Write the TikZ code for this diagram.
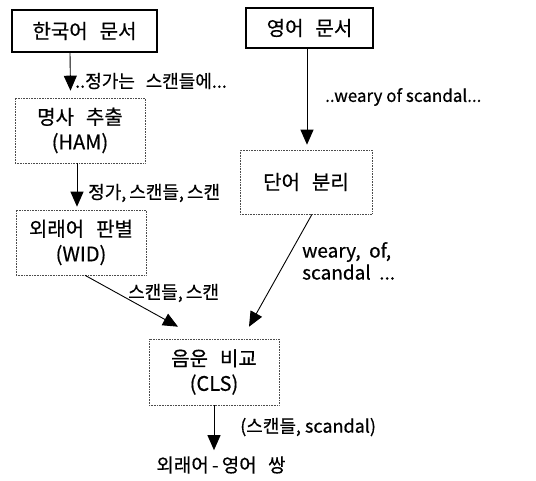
\documentclass[tikz,border=0pt]{standalone}
\usepackage{fontspec}
\setmainfont{Noto Sans CJK KR}[FakeBold=0.5]
\usetikzlibrary{arrows.meta,calc}
\newcommand{\gap}{\hspace{0.6em}}
\begin{document}
\begin{tikzpicture}[x=1pt,y=-1pt,
  solidbox/.style={draw,line width=1.1pt,minimum width=#1,inner sep=0pt,font=\fontsize{20}{25}\selectfont,align=center},
  dotbox/.style={draw=black!70,densely dotted,line width=0.6pt,inner sep=0pt,font=\fontsize{20}{25}\selectfont,align=center},
  lbl/.style={font=\fontsize{18}{21}\selectfont,inner sep=0pt,anchor=west,align=left},
  arr/.style={line width=0.9pt,-{Triangle[length=15pt,width=13pt]}}]
\useasboundingbox (0,0) rectangle (536,481);
\node[solidbox=145pt,minimum height=42pt] (kor) at (84.5,31) {한국어\gap 문서};
\node[solidbox=127pt,minimum height=40pt] (eng) at (309.5,28) {영어\gap 문서};
\node[dotbox,minimum width=130pt,minimum height=65pt] (ham) at (80,130.5) {명사\gap 추출\\(HAM)};
\node[dotbox,minimum width=132pt,minimum height=64pt] (sep) at (306,182) {단어\gap 분리};
\node[dotbox,minimum width=130pt,minimum height=65pt] (wid) at (81,242.5) {외래어\gap 판별\\(WID)};
\node[dotbox,minimum width=130pt,minimum height=66pt] (cls) at (214,372) {음운\gap 비교\\(CLS)};
\node[font=\fontsize{19}{22}\selectfont,inner sep=0pt] (out) at (221,465) {외래어\,-\,영어\gap 쌍};
% connectors
\draw[arr] ([xshift=-14.5pt]kor.south) -- ([xshift=-9.5pt,yshift=7pt]ham.north);
\draw[arr] ([xshift=-3pt]ham.south) -- ([xshift=-4pt,yshift=3pt]wid.north);
\draw[arr] ([xshift=-2.5pt]eng.south) -- ([xshift=1pt,yshift=5pt]sep.north);
\draw[arr] ([xshift=6pt]sep.south) -- ($(cls.north)+(35,-12)$);
\draw[arr] ([xshift=4pt]wid.south) -- ($(cls.north)+(-36,-12)$);
\draw[arr] (cls.south) -- (cls.south |- {$(out.north)+(0,-6)$});
% labels
\node[lbl] (l1) at (75,81) {..정가는\gap 스캔들에...};
\node[lbl] (l2) at (88,193) {정가,\,스캔들,\,스캔};
\node[lbl,font=\fontsize{17}{20}\selectfont] (l3) at (325,97) {..weary\ of\ scandal...};
\node[lbl] (l4) at (128,293) {스캔들,\,스캔};
\node[lbl,font=\fontsize{19}{22}\selectfont] (l5) at (302,261) {weary,\ \ of,\\scandal\ \ ...};
\node[lbl] (l6) at (240,427) {(스캔들,\ scandal)};
\end{tikzpicture}
\end{document}
